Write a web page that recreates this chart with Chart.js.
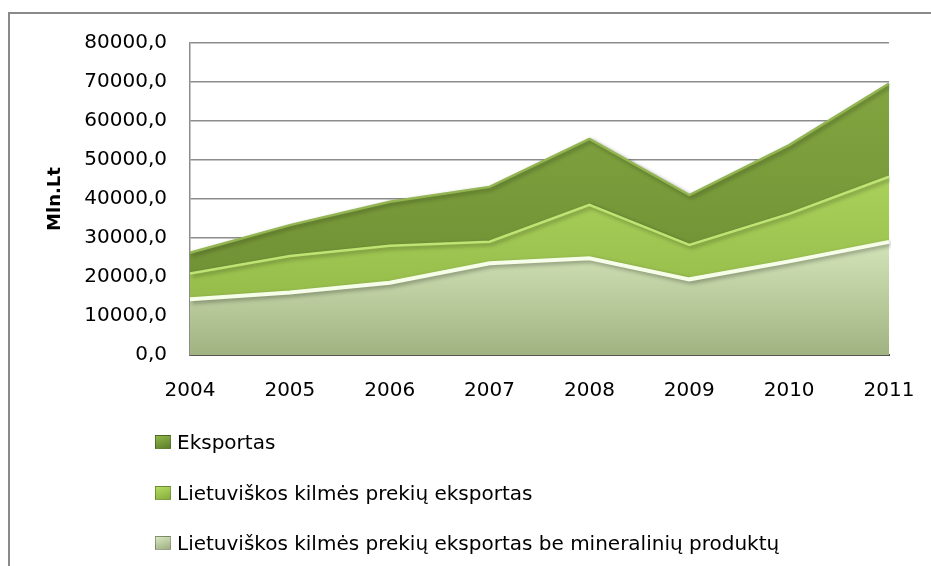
<!DOCTYPE html>
<html>
<head>
<meta charset="utf-8">
<script src="https://cdn.jsdelivr.net/npm/chart.js@4"></script>
<style>
html, body { margin: 0; padding: 0; background: #fff; }
#wrap { position: relative; width: 931px; height: 566px; overflow: hidden; }
#wrap canvas { position: absolute; left: 0; top: 0; }
#legend { position: absolute; left: 155px; top: 417px; font-family: "DejaVu Sans", sans-serif; font-size: 20px; color: #000; }
#legend .item { display: flex; align-items: center; height: 50.5px; white-space: nowrap; }
#legend .box { width: 16px; height: 14px; margin-right: 6px; box-sizing: border-box; border: 1px solid rgba(0,0,0,0.25); }
</style>
</head>
<body>
<div id="wrap">
  <canvas id="c" width="931" height="566"></canvas>
  <div id="legend"></div>
</div>
<script>
// ---- data ----
const years = ['2004', '2005', '2006', '2007', '2008', '2009', '2010', '2011'];
const eksportas = [26200, 33300, 39300, 43100, 55400, 41000, 53800, 69600];
const lietuviskos = [20900, 25400, 28000, 29050, 38500, 28200, 36200, 45700];
const beMineraliniu = [14300, 16000, 18550, 23500, 24800, 19400, 24000, 29000];
const seriesNames = [
  'Eksportas',
  'Lietuviškos kilmės prekių eksportas',
  'Lietuviškos kilmės prekių eksportas be mineralinių produktų'
];
const yTicks = [0, 10000, 20000, 30000, 40000, 50000, 60000, 70000, 80000];
const yTitle = 'Mln.Lt';

// ---- styling ----
const FONT = '"DejaVu Sans", sans-serif';
const palettes = [
  { top: '#82a540', bottom: '#6a8a31', border: '#93b552', legend: ['#8fb84a', '#5f7d2b'] },
  { top: '#a9d05a', bottom: '#8db443', border: '#bfe474', legend: ['#b5dc62', '#86ad3c'] },
  { top: '#d3e4b9', bottom: '#a2b382', border: '#f6fde8', legend: ['#d9e8c2', '#9eae7f'] }
];
const gradTop = [70000, 45000, 29000];
function grad(idx) {
  return (ctx) => {
    const chart = ctx.chart;
    const a = chart.chartArea;
    const p = palettes[idx];
    if (!a) return p.top;
    const y0 = chart.scales.y.getPixelForValue(gradTop[idx]);
    const g = chart.ctx.createLinearGradient(0, y0, 0, a.bottom);
    g.addColorStop(0, p.top);
    g.addColorStop(1, p.bottom);
    return g;
  };
}

const frame = {
  id: 'frame',
  beforeDraw(chart) {
    const c = chart.ctx;
    c.save();
    c.strokeStyle = '#8a8a8a';
    c.lineWidth = 2;
    c.strokeRect(9, 13, 1200, 1200);
    c.restore();
  }
};
const bevel = {
  id: 'bevel',
  beforeDatasetsDraw(chart) {
    const c = chart.ctx;
    c.save();
    c.shadowColor = 'rgba(0,0,0,0.35)';
    c.shadowBlur = 4;
    c.shadowOffsetX = 2;
    c.shadowOffsetY = 2;
  },
  afterDatasetsDraw(chart) { chart.ctx.restore(); }
};

const values = [eksportas, lietuviskos, beMineraliniu];
const datasets = values.map((v, i) => ({
  label: seriesNames[i],
  data: v,
  fill: 'origin',
  backgroundColor: grad(i),
  borderColor: palettes[i].border,
  borderWidth: i === 2 ? 4 : 2.5,
  pointRadius: 0,
  tension: 0,
  order: 3 - i
}));

const chart = new Chart(document.getElementById('c'), {
  type: 'line',
  data: { labels: years, datasets },
  options: {
    responsive: false,
    animation: false,
    layout: { padding: { left: 40, right: 42, top: 43, bottom: 139 } },
    plugins: { legend: { display: false }, tooltip: { enabled: false } },
    scales: {
      x: {
        offset: false,
        afterFit(scale) { scale.paddingLeft = 0; scale.paddingRight = 0; },
        grid: { display: false, drawTicks: false },
        border: { display: true, color: '#555', width: 2 },
        ticks: { color: '#000', font: { family: FONT, size: 20 }, padding: 24, maxRotation: 0, autoSkip: false }
      },
      y: {
        min: 0, max: 80000,
        afterBuildTicks(scale) { scale.ticks = yTicks.map(v => ({ value: v })); },
        afterFit(scale) { scale.width = 150; },
        grid: { color: '#8c8c8c', lineWidth: 1.5, drawTicks: false },
        border: { display: true, color: '#8c8c8c', width: 1.5 },
        ticks: {
          color: '#000', font: { family: FONT, size: 20 }, padding: 23,
          callback: (v) => Number(v).toFixed(1).replace('.', ',')
        },
        title: { display: true, text: yTitle, color: '#000', font: { family: FONT, size: 18, weight: 'bold' }, padding: { top: 5, bottom: 0 } }
      }
    }
  },
  plugins: [frame, bevel]
});

// HTML legend built from the chart's datasets
const leg = document.getElementById('legend');
chart.data.datasets.forEach((ds, i) => {
  const item = document.createElement('div');
  item.className = 'item';
  const box = document.createElement('span');
  box.className = 'box';
  box.style.background = 'linear-gradient(160deg,' + palettes[i].legend[0] + ',' + palettes[i].legend[1] + ')';
  const txt = document.createElement('span');
  txt.textContent = ds.label;
  item.appendChild(box);
  item.appendChild(txt);
  leg.appendChild(item);
});
</script>
</body>
</html>
